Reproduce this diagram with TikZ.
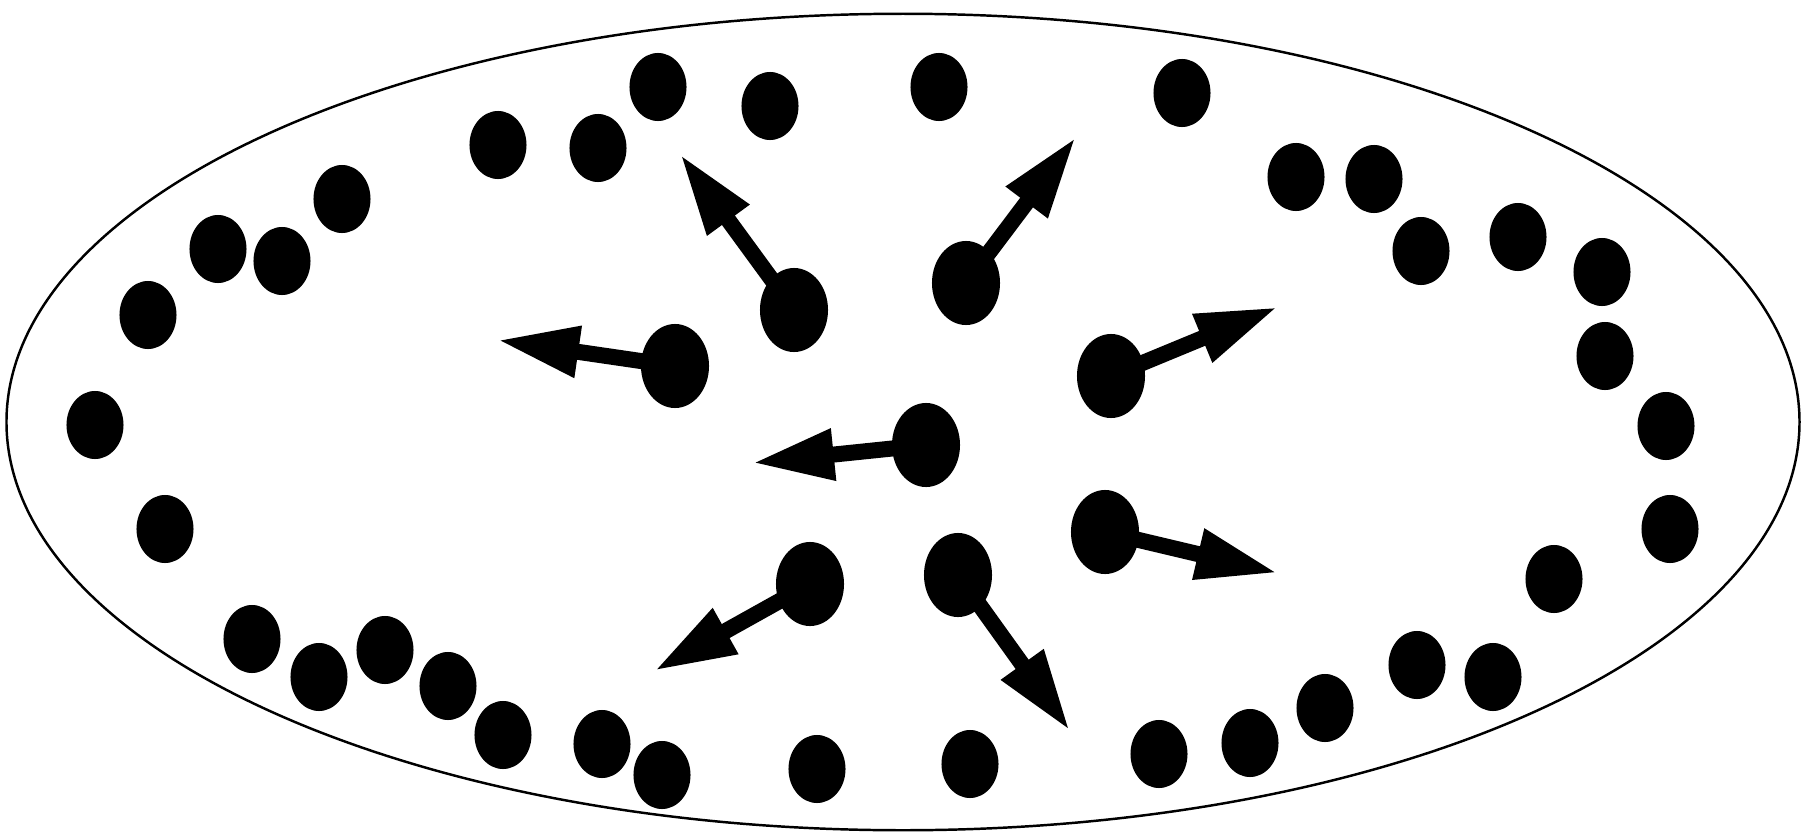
\documentclass[tikz,border=0pt]{standalone}
\usetikzlibrary{shapes.geometric,arrows.meta}
\pgfdeclarelayer{bg}
\pgfsetlayers{bg,main}
\tikzset{
  dot/.style={ellipse,fill=black,inner sep=0pt,minimum width=0.57cm,minimum height=0.68cm},
  mdot/.style={ellipse,fill=black,inner sep=0pt,minimum width=0.68cm,minimum height=0.84cm},
  mov/.style={line width=0.16cm,-{Triangle[length=0.82cm,width=0.48cm]}}
}
\begin{document}
\begin{tikzpicture}[x=0.01cm,y=-0.01cm]
\useasboundingbox (0,0) rectangle (1814,839);
\begin{pgfonlayer}{bg}
  \fill[white] (0,0) rectangle (1814,839);
\end{pgfonlayer}
\node[ellipse,draw=black,line width=0.7pt,minimum width=17.92cm,minimum height=8.16cm,inner sep=0pt] (cell) at (903,422) {};
% boundary dots
\foreach \n/\x/\y in {a1/658/87,a2/770/106,a3/939/87,a4/1182/93,a5/498/145,a6/598/148,a7/342/199,a8/218/249,a9/282/261,a10/148/315,a11/95/425,a12/165/529,
b1/1296/177,b2/1374/179,b3/1421/251,b4/1518/237,b5/1602/272,b6/1605/356,b7/1666/426,b8/1670/529,b9/1554/579,b10/1417/665,b11/1493/677,b12/1325/708,b13/1250/743,b14/1159/754,
c1/970/764,c2/817/769,c3/662/775,c4/602/744,c5/503/735,c6/448/686,c7/385/650,c8/319/677,c9/252/639}
  \node[dot] (\n) at (\x,\y) {};
% moving dots and arrow tips
\foreach \n/\x/\y/\tx/\ty in {m1/794/310/680/154,m2/966/283/1076/137,m3/675/366/497/340,m4/1111/376/1278/307,m5/926/445/752/463,m6/1105/532/1278/573,m7/810/584/654/671,m8/958/575/1070/731}{
  \node[mdot] (\n) at (\x,\y) {};
  \coordinate (t\n) at (\tx,\ty);
  \begin{pgfonlayer}{bg}
    \draw[mov] (\n.center) -- (t\n);
  \end{pgfonlayer}
}
\end{tikzpicture}
\end{document}
